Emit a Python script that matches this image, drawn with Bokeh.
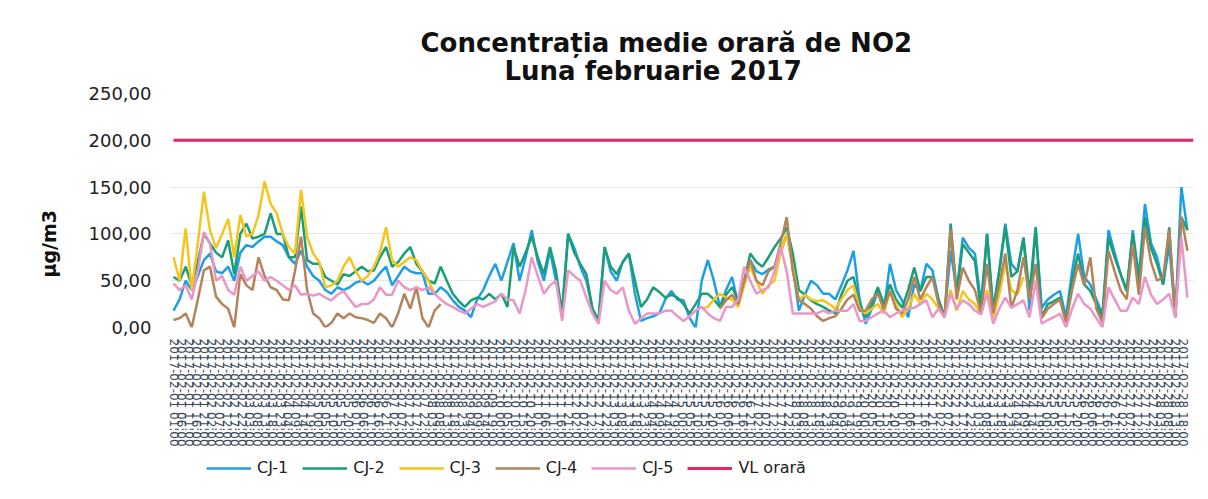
from datetime import datetime, timedelta
from bokeh.plotting import figure
from bokeh.layouts import column
from bokeh.models import Range1d, Legend, LegendItem, Title, FixedTicker
from bokeh.embed import file_html
from bokeh.resources import INLINE

nan = float("nan")

# ---- data: 4-hourly readings, 1 Feb 2017 01:00 -> 28 Feb 2017 ----
start = datetime(2017, 2, 1, 1, 0)
hours = list(range(0, 672, 4))

cj1 = [
    18, 30, 50, 40, 55, 72,
    79, 60, 58, 65, 50, 80,
    88, 86, 92, 97, 97, 92,
    88, 75, 68, 82, 65, 55,
    50, 40, 36, 43, 40, 43,
    48, 50, 46, 50, 58, 65,
    45, 55, 65, 60, 58, 58,
    36, 36, 43, 38, 29, 22,
    18, 11, 30, 40, 55, 68,
    50, 70, 90, 50, 75, 104,
    70, 50, 82, 50, 18, 100,
    85, 65, 50, 20, 8, 86,
    60, 50, 70, 79, 36, 7,
    10, 12, 15, 30, 39, 30,
    29, 10, 0, 50, 72, 50,
    22, 40, 54, 25, 50, 72,
    60, 57, 62, 65, 80, 100,
    65, 18, 35, 50, 45, 36,
    36, 30, 45, 61, 82, 30,
    4, 20, 39, 18, 68, 40,
    29, 11, 46, 39, 68, 61,
    30, 11, 82, 39, 96, 85,
    79, 25, 100, 18, 60, 111,
    68, 60, 96, 18, 107, 21,
    30, 35, 39, 11, 60, 100,
    54, 46, 30, 14, 104, 80,
    57, 39, 104, 54, 132, 90,
    75, 46, 89, 11, 150, 104,
]

cj2 = [
    54, 50, 65, 45, 70, 100,
    90, 80, 75, 93, 57, 100,
    111, 95, 97, 100, 122, 100,
    100, 75, 75, 129, 72, 68,
    68, 54, 50, 46, 57, 55,
    60, 65, 60, 61, 75, 86,
    65, 70, 79, 86, 68, 60,
    50, 47, 65, 50, 36, 28,
    22, 29, 32, 30, 36, 30,
    36, 22, 86, 65, 80, 97,
    75, 57, 86, 60, 15, 100,
    80, 68, 57, 20, 7, 86,
    65, 57, 70, 79, 50, 22,
    30, 43, 38, 32, 35, 32,
    25, 15, 25, 36, 36, 30,
    22, 35, 43, 29, 50, 79,
    70, 65, 75, 86, 95, 107,
    79, 40, 35, 29, 25, 22,
    18, 15, 35, 50, 54, 25,
    11, 25, 43, 25, 46, 30,
    21, 40, 64, 39, 54, 54,
    30, 11, 111, 36, 89, 80,
    71, 18, 100, 18, 60, 107,
    54, 60, 96, 36, 107, 11,
    25, 28, 32, 7, 50, 79,
    46, 39, 25, 11, 96, 75,
    57, 39, 100, 46, 118, 85,
    68, 46, 107, 11, 118, 104,
]

cj3 = [
    75, 50, 106, 40, 90, 145,
    104, 85, 100, 116, 75, 120,
    97, 100, 120, 156, 132, 122,
    100, 86, 79, 147, 97, 79,
    70, 43, 45, 50, 65, 75,
    60, 50, 55, 65, 80, 107,
    72, 65, 70, 75, 72, 60,
    50, 36, nan, nan, nan, nan,
    nan, nan, nan, nan, nan, nan,
    nan, nan, nan, nan, nan, nan,
    nan, nan, nan, nan, nan, nan,
    nan, nan, nan, nan, nan, nan,
    nan, nan, nan, nan, nan, nan,
    nan, nan, nan, nan, nan, nan,
    nan, nan, nan, 20, 22, 30,
    36, 32, 30, 22, 45, 65,
    50, 36, 45, 50, 80, 100,
    65, 29, 35, 30, 28, 29,
    25, 20, 30, 40, 45, 20,
    15, 20, 25, 15, 39, 25,
    11, 20, 36, 25, 36, 30,
    20, 11, 40, 18, 39, 30,
    25, 14, 40, 10, 35, 68,
    40, 35, 54, nan, nan, nan,
    nan, nan, nan, nan, nan, nan,
    nan, nan, nan, nan, nan, nan,
    nan, nan, nan, nan, nan, nan,
    nan, nan, nan, nan, nan, nan,
]

cj4 = [
    8, 10, 15, 0, 30, 61,
    65, 33, 25, 20, 0, 57,
    45, 40, 75, 55, 43, 40,
    30, 29, 60, 97, 40, 15,
    10, 0, 5, 15, 10, 15,
    11, 10, 8, 5, 15, 10,
    0, 15, 36, 20, 43, 10,
    0, 18, 25, nan, nan, nan,
    nan, nan, nan, nan, nan, nan,
    nan, nan, nan, nan, nan, nan,
    nan, nan, nan, nan, nan, nan,
    nan, nan, nan, nan, nan, nan,
    nan, nan, nan, nan, nan, nan,
    nan, nan, nan, nan, nan, nan,
    nan, nan, nan, nan, nan, nan,
    20, 29, 35, 25, 50, 72,
    50, 45, 60, 65, 90, 118,
    60, 29, 25, 20, 12, 7,
    10, 12, 20, 30, 35, 18,
    18, 30, 36, 20, 39, 20,
    15, 30, 54, 30, 43, 54,
    25, 11, 105, 30, 64, 50,
    40, 15, 68, 15, 45, 79,
    21, 40, 75, 30, 68, 10,
    20, 25, 30, 5, 40, 68,
    45, 75, 20, 5, 82, 60,
    40, 30, 89, 35, 107, 70,
    50, 54, 104, 11, 118, 82,
]

cj5 = [
    47, 40, 45, 30, 60, 102,
    90, 50, 55, 40, 35, 65,
    50, 55, 60, 50, 54, 50,
    45, 40, 45, 35, 36, 34,
    36, 32, 29, 35, 39, 30,
    22, 25, 25, 30, 43, 35,
    35, 50, 43, 40, 43, 40,
    43, 36, 30, 25, 22, 18,
    15, 20, 25, 22, 25, 28,
    36, 30, 29, 15, 40, 75,
    55, 36, 45, 50, 7, 61,
    55, 50, 32, 15, 4, 50,
    40, 36, 43, 18, 4, 10,
    15, 15, 15, 18, 18, 12,
    7, 12, 18, 22, 15, 10,
    7, 22, 22, 30, 65, 50,
    36, 40, 43, 60, 86, 60,
    15, 15, 15, 15, 15, 18,
    15, 18, 18, 18, 25, 7,
    7, 11, 15, 18, 11, 15,
    18, 20, 21, 25, 29, 11,
    20, 11, 36, 20, 29, 25,
    18, 14, 36, 4, 20, 32,
    21, 25, 29, 11, 50, 4,
    8, 11, 15, 0, 20, 36,
    25, 20, 10, 0, 43, 30,
    18, 18, 32, 25, 54, 35,
    25, 30, 36, 11, 96, 32,
]

vl_orara = 200  # hourly limit value

series_names = ["CJ-1", "CJ-2", "CJ-3", "CJ-4", "CJ-5"]
series_values = [cj1, cj2, cj3, cj4, cj5]
series_colors = ["#1f9fe3", "#1b9e77", "#f4c51c", "#b5835a", "#ea96c9"]
vl_color = "#e8255e"

y_ticks = [0, 50, 100, 150, 200, 250]
y_tick_labels = ["0,00", "50,00", "100,00", "150,00", "200,00", "250,00"]

tick_hours = list(range(0, 666, 5))
tick_labels = [(start + timedelta(hours=h)).strftime("%Y-%m-%d %H:%M") for h in tick_hours]

FONT = "DejaVu Sans"

p = figure(width=1200, height=452,
           x_range=Range1d(-2, 672), y_range=Range1d(0, 250),
           output_backend="svg", toolbar_location=None,
           min_border_left=170, min_border_right=7,
           min_border_top=93, min_border_bottom=125)

p.background_fill_color = "white"
p.border_fill_color = "white"
p.outline_line_color = None
p.xgrid.grid_line_color = None
p.ygrid.grid_line_color = "#e6e6e6"

# titles
p.add_layout(Title(text="Luna februarie 2017", text_font=FONT, text_font_size="26px",
                   text_color="#111111",
                   text_font_style="bold", align="left", offset=334, standoff=16), "above")
p.add_layout(Title(text="Concentrația medie orară de NO2", text_font=FONT, text_font_size="26px",
                   text_color="#111111",
                   text_font_style="bold", align="left", offset=250, standoff=-24), "above")

# y axis
p.yaxis.ticker = FixedTicker(ticks=y_ticks)
p.yaxis.major_label_overrides = dict(zip(y_ticks, y_tick_labels))
p.yaxis.major_label_text_font = FONT
p.yaxis.major_label_text_font_size = "18px"
p.yaxis.major_label_text_color = "#222222"
p.yaxis.major_label_standoff = 13
p.yaxis.axis_line_color = None
p.yaxis.major_tick_line_color = None
p.yaxis.minor_tick_line_color = None

# y axis title (placed lower than the frame centre, as in the original)
p.add_layout(Title(text="µg/m3", text_font=FONT, text_font_size="19px",
                   text_font_style="bold", text_color="#111111",
                   align="left", offset=50, standoff=52), "left")

# x axis
p.xaxis.ticker = FixedTicker(ticks=tick_hours)
p.xaxis.major_label_overrides = dict(zip(tick_hours, tick_labels))
p.xaxis.major_label_orientation = "vertical"
p.xaxis.major_label_text_font = FONT
p.xaxis.major_label_text_font_size = "12px"
p.xaxis.major_label_text_color = "#3a4a5c"
p.xaxis.major_label_standoff = 5
p.xaxis.axis_line_color = None
p.xaxis.major_tick_line_color = None
p.xaxis.minor_tick_line_color = None

for name, vals, col in zip(series_names, series_values, series_colors):
    p.line(hours, vals, line_color=col, line_width=2.5)
p.line([hours[0], hours[-1] + 4], [vl_orara, vl_orara], line_color=vl_color, line_width=3)

# ---- legend strip (separate figure under the chart) ----
leg = figure(width=1200, height=30, x_range=Range1d(0, 1), y_range=Range1d(0, 1),
             output_backend="svg", toolbar_location=None,
             x_axis_location=None, y_axis_location=None,
             min_border=0, min_border_left=0, min_border_right=0,
             min_border_top=0, min_border_bottom=0)
leg.outline_line_color = None
leg.xgrid.grid_line_color = None
leg.ygrid.grid_line_color = None
leg.background_fill_color = "white"
leg.border_fill_color = "white"

items = []
for name, col in zip(series_names + ["VL orară"], series_colors + [vl_color]):
    r = leg.line([nan], [nan], line_color=col, line_width=3 if name == "VL orară" else 2.5)
    items.append(LegendItem(label=name, renderers=[r]))

legend = Legend(items=items, orientation="horizontal", location=(36, 5),
                label_text_font=FONT, label_text_font_size="16px",
                label_text_color="#222222",
                glyph_width=45, glyph_height=16, label_standoff=6, spacing=14,
                padding=0, margin=0, border_line_color=None, background_fill_alpha=0)
leg.add_layout(legend, "center")

layout = column(p, leg, spacing=0)

open("out.html", "w").write(file_html(layout, INLINE))
